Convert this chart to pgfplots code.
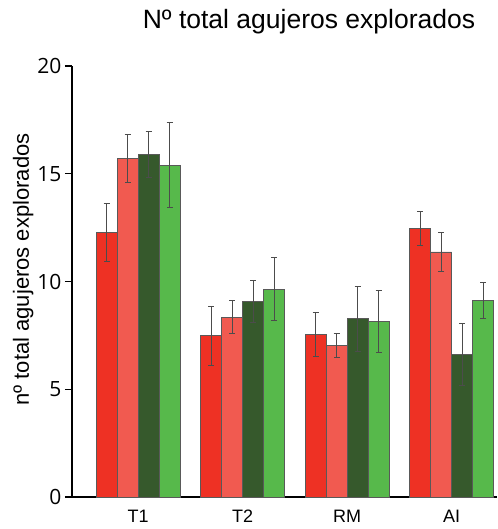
\documentclass[border=0pt]{standalone}
\usepackage{pgfplots}
\pgfplotsset{compat=1.18}
\usepackage{fontspec}
\setmainfont{Liberation Sans}
\newfontfamily\opensans{Open Sans}
\definecolor{cA}{HTML}{EE3124}
\definecolor{cB}{HTML}{F15A50}
\definecolor{cC}{HTML}{36592C}
\definecolor{cD}{HTML}{57B94B}
\begin{document}
\begin{tikzpicture}
\useasboundingbox (-72pt,-32pt) rectangle (425pt,497pt);
\begin{axis}[
  at={(0,0)}, anchor=south west,
  scale only axis, width=425pt, height=431pt,
  xmin=-0.6316, xmax=3.435, ymin=0, ymax=20,
  axis x line*=bottom, axis y line*=left,
  axis line style={line width=1.1pt, black},
  ytick={0,5,10,15,20},
  tick align=outside, major tick length=7pt,
  ytick style={line width=1.1pt, black},
  xtick={0,1,2,3}, xticklabels={T1,T2,RM,AI},
  xtick style={draw=none},
  xticklabel style={font=\fontsize{18}{18}\selectfont, anchor=base, yshift=-18.7pt},
  yticklabel style={font=\opensans\fontsize{21}{21}\selectfont},
  /pgf/number format/assume math mode=true,
  ybar=0pt, bar width=21pt,
  clip=false,
  error bars/y dir=both, error bars/y explicit,
  error bars/error bar style={line width=0.8pt, black!70},
  error bars/error mark options={rotate=90, mark size=3pt, line width=0.8pt, black!70},
]
\addplot[fill=cA, draw=black!65, line width=0.7pt] coordinates {
  (0,12.26) +- (0,1.35)
  (1,7.49) +- (0,1.37)
  (2,7.55) +- (0,1.03)
  (3,12.45) +- (0,0.78)
};
\addplot[fill=cB, draw=black!65, line width=0.7pt] coordinates {
  (0,15.72) +- (0,1.1)
  (1,8.35) +- (0,0.76)
  (2,7.04) +- (0,0.54)
  (3,11.37) +- (0,0.91)
};
\addplot[fill=cC, draw=black!65, line width=0.7pt] coordinates {
  (0,15.9) +- (0,1.07)
  (1,9.09) +- (0,0.97)
  (2,8.27) +- (0,1.52)
  (3,6.62) +- (0,1.44)
};
\addplot[fill=cD, draw=black!65, line width=0.7pt] coordinates {
  (0,15.4) +- (0,1.97)
  (1,9.64) +- (0,1.46)
  (2,8.15) +- (0,1.45)
  (3,9.11) +- (0,0.83)
};
\end{axis}
\node[rotate=90, anchor=base, font=\fontsize{22}{22}\selectfont] at (-43pt,227.5pt) {nº total agujeros explorados};
\node[anchor=base, font=\fontsize{26.5}{26.5}\selectfont] at (237pt,468.7pt) {Nº total agujeros explorados};
\end{tikzpicture}
\end{document}
